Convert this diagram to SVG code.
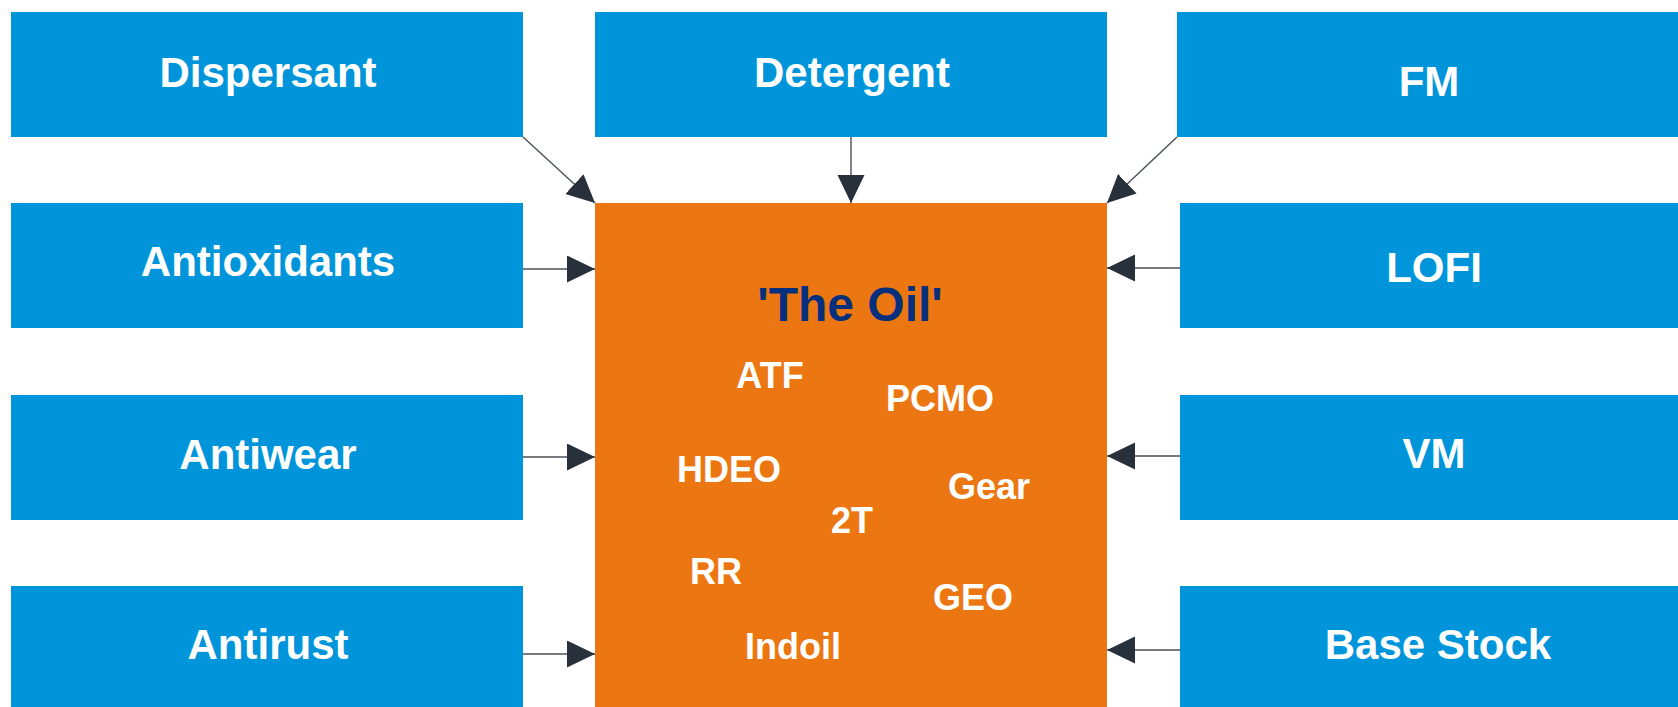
<svg xmlns="http://www.w3.org/2000/svg" width="1678" height="707" viewBox="0 0 1678 707">
<style>
.box{fill:#0095DA}
.oil{fill:#EC7712}
.lbl{font-family:"Liberation Sans",Arial,sans-serif;font-weight:bold;font-size:42px;fill:#ffffff;text-anchor:middle}
.sm{font-family:"Liberation Sans",Arial,sans-serif;font-weight:bold;font-size:36px;fill:#ffffff;text-anchor:middle}
.title{font-family:"Liberation Sans",Arial,sans-serif;font-weight:bold;font-size:48px;fill:#062F7E;text-anchor:middle}
.con{stroke:#4A5058;stroke-width:1.4;fill:none;marker-end:url(#ah)}
</style>
<defs>
<marker id="ah" markerUnits="userSpaceOnUse" markerWidth="29" markerHeight="28" refX="28" refY="13.5" orient="auto">
<path d="M0,0 L28,13.5 L0,27 Z" fill="#28313B"/>
</marker>
</defs>
<rect width="1678" height="707" fill="#ffffff"/>
<g id="dispersant"><rect class="box" x="11" y="12" width="512" height="125"/><text class="lbl" x="268" y="87">Dispersant</text></g>
<g id="antioxidants"><rect class="box" x="11" y="203" width="512" height="125"/><text class="lbl" x="268" y="276">Antioxidants</text></g>
<g id="antiwear"><rect class="box" x="11" y="395" width="512" height="125"/><text class="lbl" x="268" y="469">Antiwear</text></g>
<g id="antirust"><rect class="box" x="11" y="586" width="512" height="121"/><text class="lbl" x="268" y="659">Antirust</text></g>
<g id="detergent"><rect class="box" x="595" y="12" width="512" height="125"/><text class="lbl" x="852" y="87">Detergent</text></g>
<g id="fm"><rect class="box" x="1177" y="12" width="501" height="125"/><text class="lbl" x="1429" y="96">FM</text></g>
<g id="lofi"><rect class="box" x="1180" y="203" width="498" height="125"/><text class="lbl" x="1434" y="282">LOFI</text></g>
<g id="vm"><rect class="box" x="1180" y="395" width="498" height="125"/><text class="lbl" x="1434" y="468">VM</text></g>
<g id="basestock"><rect class="box" x="1180" y="586" width="498" height="121"/><text class="lbl" x="1438" y="659">Base Stock</text></g>
<g id="theoil">
<rect class="oil" x="595" y="203" width="512" height="504"/>
<text class="title" x="850" y="321">'The Oil'</text>
<text class="sm" x="770" y="388">ATF</text>
<text class="sm" x="940" y="411">PCMO</text>
<text class="sm" x="729" y="482">HDEO</text>
<text class="sm" x="989" y="499">Gear</text>
<text class="sm" x="852" y="533">2T</text>
<text class="sm" x="716" y="584">RR</text>
<text class="sm" x="973" y="610">GEO</text>
<text class="sm" x="793" y="659">Indoil</text>
</g>
<g id="connectors">
<line class="con" x1="523" y1="137" x2="595" y2="203"/>
<line class="con" x1="851" y1="137" x2="851" y2="203"/>
<line class="con" x1="1177" y1="137" x2="1107" y2="203"/>
<line class="con" x1="523" y1="269" x2="595" y2="269"/>
<line class="con" x1="523" y1="457" x2="595" y2="457"/>
<line class="con" x1="523" y1="654" x2="595" y2="654"/>
<line class="con" x1="1180" y1="268" x2="1107" y2="268"/>
<line class="con" x1="1180" y1="456" x2="1107" y2="456"/>
<line class="con" x1="1180" y1="650" x2="1107" y2="650"/>
</g>
</svg>
